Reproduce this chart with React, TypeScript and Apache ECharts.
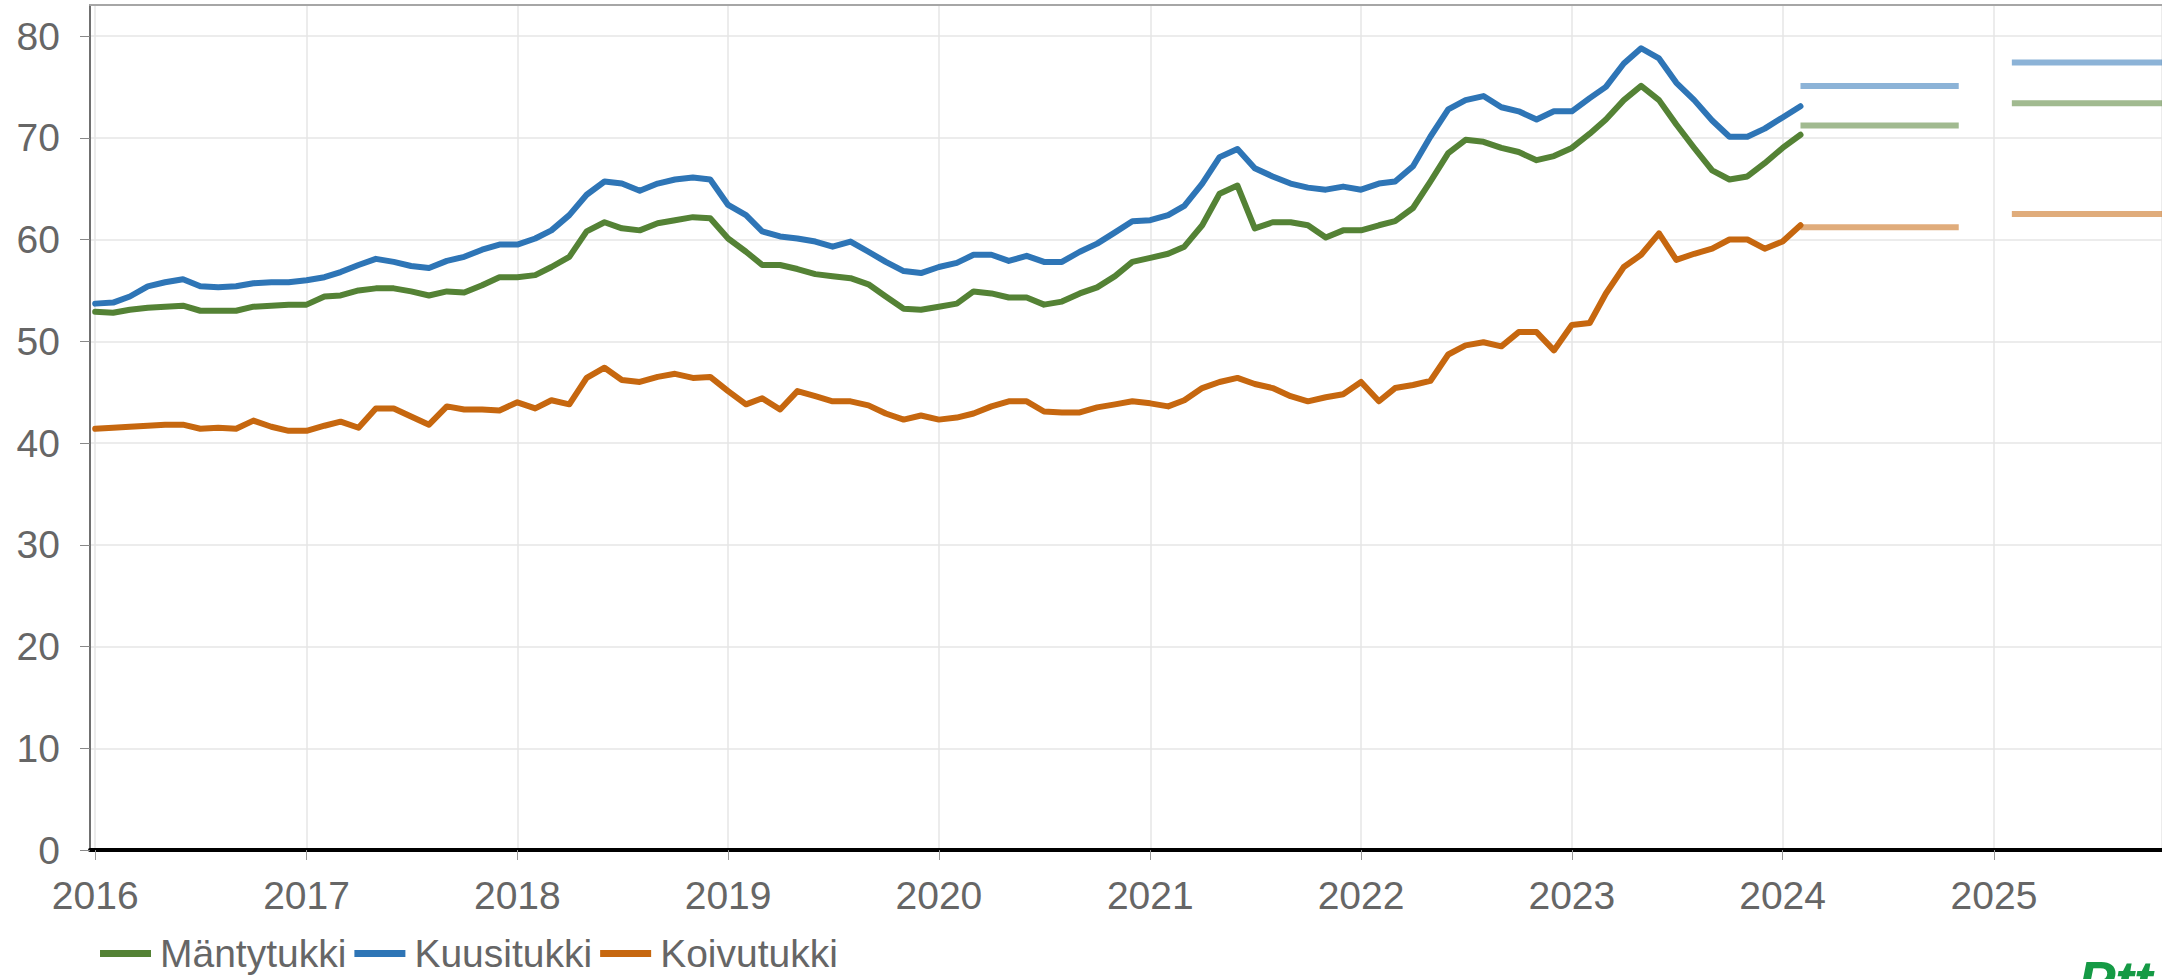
import React, { useEffect, useRef } from "react";
import * as echarts from "echarts";

// Monthly series, Jan 2016 – Feb 2024 (€/m³)
const START_YEAR = 2016;
const manty = [
  52.9, 52.8, 53.1, 53.3, 53.4, 53.5, 53.0, 53.0, 53.0, 53.4, 53.5, 53.6,
  53.6, 54.4, 54.5, 55.0, 55.2, 55.2, 54.9, 54.5, 54.9, 54.8, 55.5, 56.3,
  56.3, 56.5, 57.3, 58.3, 60.8, 61.7, 61.1, 60.9, 61.6, 61.9, 62.2, 62.1,
  60.1, 58.8, 57.5, 57.5, 57.1, 56.6, 56.4, 56.2, 55.6, 54.4, 53.2, 53.1,
  53.4, 53.7, 54.9, 54.7, 54.3, 54.3, 53.6, 53.9, 54.7, 55.3, 56.4, 57.8,
  58.2, 58.6, 59.3, 61.4, 64.5, 65.3, 61.1, 61.7, 61.7, 61.4, 60.2, 60.9,
  60.9, 61.4, 61.8, 63.1, 65.7, 68.5, 69.8, 69.6, 69.0, 68.6, 67.8, 68.2,
  69.0, 70.4, 71.8, 73.7, 75.1, 73.7, 71.3, 69.0, 66.8, 65.9, 66.2, 67.5,
  69.0, 70.3,
];
const kuusi = [
  53.7, 53.8, 54.4, 55.4, 55.8, 56.1, 55.4, 55.3, 55.4, 55.7, 55.8, 55.8,
  56.0, 56.3, 56.8, 57.5, 58.1, 57.8, 57.4, 57.2, 57.9, 58.3, 59.0, 59.5,
  59.5, 60.1, 60.9, 62.4, 64.4, 65.7, 65.5, 64.8, 65.5, 65.9, 66.1, 65.9,
  63.4, 62.4, 60.8, 60.3, 60.1, 59.8, 59.3, 59.8, 58.8, 57.8, 56.9, 56.7,
  57.3, 57.7, 58.5, 58.5, 57.9, 58.4, 57.8, 57.8, 58.8, 59.6, 60.7, 61.8,
  61.9, 62.4, 63.3, 65.5, 68.1, 68.9, 67.0, 66.2, 65.5, 65.1, 64.9, 65.2,
  64.9, 65.5, 65.7, 67.2, 70.1, 72.8, 73.7, 74.1, 73.0, 72.6, 71.8, 72.6,
  72.6, 73.9, 75.0, 77.3, 78.8, 77.8, 75.4, 73.7, 71.7, 70.1, 70.1, 70.9,
  72.0, 73.1,
];
const koivu = [
  41.4, 41.5, 41.6, 41.7, 41.8, 41.8, 41.4, 41.5, 41.4, 42.2, 41.6, 41.2,
  41.2, 41.7, 42.1, 41.5, 43.4, 43.4, 42.6, 41.8, 43.6, 43.3, 43.3, 43.2,
  44.0, 43.4, 44.2, 43.8, 46.4, 47.4, 46.2, 46.0, 46.5, 46.8, 46.4, 46.5,
  45.1, 43.8, 44.4, 43.3, 45.1, 44.6, 44.1, 44.1, 43.7, 42.9, 42.3, 42.7,
  42.3, 42.5, 42.9, 43.6, 44.1, 44.1, 43.1, 43.0, 43.0, 43.5, 43.8, 44.1,
  43.9, 43.6, 44.2, 45.4, 46.0, 46.4, 45.8, 45.4, 44.6, 44.1, 44.5, 44.8,
  46.0, 44.1, 45.4, 45.7, 46.1, 48.7, 49.6, 49.9, 49.5, 50.9, 50.9, 49.1,
  51.6, 51.8, 54.7, 57.3, 58.5, 60.6, 58.0, 58.6, 59.1, 60.0, 60.0, 59.1,
  59.8, 61.4,
];

// Forecast periods and levels (2024, 2025)
const forecastPeriods = [
  ["2024-02-01", "2024-11-01"],
  ["2025-02-01", "2025-11-01"],
];
const mantyForecast = [71.2, 73.4];
const kuusiForecast = [75.1, 77.4];
const koivuForecast = [61.2, 62.5];

const seriesNames = ["Mäntytukki", "Kuusitukki", "Koivutukki"];
const yTicks = [0, 10, 20, 30, 40, 50, 60, 70, 80];

const COLORS = ["#548235", "#2e75b6", "#c6670f"];
const FONT = "'Liberation Sans', Arial, sans-serif";
const LABEL_COLOR = "#666666";

const toSeries = (vals: number[]) =>
  vals.map((v, i) => [Date.UTC(START_YEAR, i, 1), v]);

const toForecast = (vals: number[]) => {
  const out: any[] = [];
  forecastPeriods.forEach((p, k) => {
    if (k > 0) out.push([p[0], "-"]);
    out.push([p[0], vals[k]]);
    out.push([p[1], vals[k]]);
  });
  return out;
};

export default function App() {
  const ref = useRef<HTMLDivElement>(null);

  useEffect(() => {
    if (!ref.current) return;
    const chart = echarts.init(ref.current, undefined, { renderer: "svg" });
    const xMin = Date.UTC(2015, 11, 23);
    const xMax = Date.UTC(2025, 9, 19);
    const actual = [manty, kuusi, koivu];
    const fc = [mantyForecast, kuusiForecast, koivuForecast];

    const series: any[] = [];
    actual.forEach((vals, k) => {
      series.push({
        name: seriesNames[k],
        type: "line",
        data: toSeries(vals),
        showSymbol: false,
        symbol: "none",
        lineStyle: { width: 6, color: COLORS[k], join: "round", cap: "round" },
        itemStyle: { color: COLORS[k] },
        z: 3,
      });
    });
    fc.forEach((vals, k) => {
      series.push({
        name: seriesNames[k] + " ennuste",
        type: "line",
        data: toForecast(vals),
        showSymbol: false,
        symbol: "none",
        connectNulls: false,
        lineStyle: { width: 6, color: COLORS[k], opacity: 0.55 },
        itemStyle: { color: COLORS[k] },
        z: 2,
      });
    });

    const yearLabel = (v: number) => {
      const d = new Date(v);
      return d.getUTCMonth() === 0 && d.getUTCDate() === 1
        ? String(d.getUTCFullYear())
        : "";
    };

    chart.setOption({
      animation: false,
      useUTC: true,
      backgroundColor: "#ffffff",
      textStyle: { fontFamily: FONT },
      grid: { left: 90, right: 0, top: 5, bottom: 129, containLabel: false },
      legend: {
        data: seriesNames,
        left: 95,
        top: 929,
        icon: "rect",
        itemWidth: 51,
        itemHeight: 7,
        itemGap: 8,
        textStyle: {
          fontSize: 39,
          color: LABEL_COLOR,
          fontFamily: FONT,
          padding: [0, 0, 0, 4],
        },
      },
      xAxis: [
        {
          type: "time",
          min: xMin,
          max: xMax,
          splitNumber: 10,
          maxInterval: 366 * 24 * 3600 * 1000,
          axisLine: { show: true, lineStyle: { color: "#000000", width: 4 } },
          axisTick: { show: true, length: 10, lineStyle: { color: "#999999", width: 1 } },
          axisLabel: {
            formatter: yearLabel,
            fontSize: 39,
            color: LABEL_COLOR,
            fontFamily: FONT,
            margin: 26,
            showMinLabel: false,
            showMaxLabel: false,
          },
          splitLine: { show: true, lineStyle: { color: "#e6e6e6", width: 1.5 } },
        },
        {
          type: "time",
          position: "top",
          min: xMin,
          max: xMax,
          axisLine: { show: true, lineStyle: { color: "#a6a6a6", width: 2 } },
          axisTick: { show: false },
          axisLabel: { show: false },
          splitLine: { show: false },
        },
      ],
      yAxis: {
        type: "value",
        min: yTicks[0],
        max: 83.05,
        interval: 10,
        axisLine: { show: true, lineStyle: { color: "#707070", width: 2 } },
        axisTick: { show: true, length: 10, lineStyle: { color: "#888888", width: 1 } },
        axisLabel: {
          fontSize: 39,
          color: LABEL_COLOR,
          fontFamily: FONT,
          margin: 30,
          showMaxLabel: false,
          formatter: (v: number) => (yTicks.includes(v) ? String(v) : ""),
        },
        splitLine: { show: true, lineStyle: { color: "#e6e6e6", width: 1.5 } },
      },
      graphic: [
        {
          type: "text",
          left: 2078,
          top: 952,
          style: {
            text: "Ptt",
            fill: "#159a45",
            fontSize: 56,
            fontWeight: 900,
            fontStyle: "italic",
            fontFamily: FONT,
          },
        },
      ],
      series,
    });
    return () => chart.dispose();
  }, []);

  return (
    <div
      ref={ref}
      style={{ position: "absolute", left: 0, top: 0, width: 2162, height: 979 }}
    />
  );
}
